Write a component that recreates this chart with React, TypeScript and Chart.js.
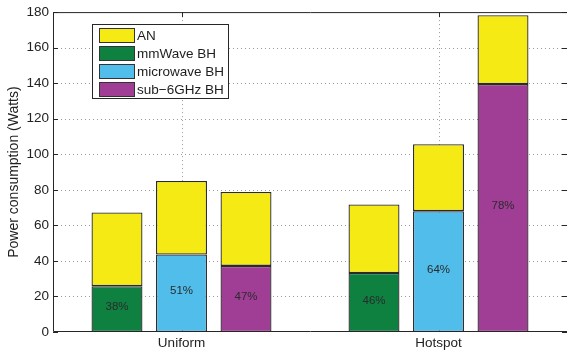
import React, { useEffect, useRef } from "react";
import { Chart, registerables } from "chart.js";

Chart.register(...registerables);

// Scenario categories
const categories = ["Uniform", "Hotspot"];

// Backhaul power per scenario (Watts)
const mmWaveBH = [25.8, 33.2];
const microwaveBH = [43.6, 68.0];
const sub6BH = [37.2, 139.5];

// Access network power stacked on top of each backhaul option (Watts)
const mmWaveAN = [41.5, 38.6];
const microwaveAN = [41.4, 37.7];
const sub6AN = [41.6, 38.7];

// Y axis ticks
const yTicks = [0, 20, 40, 60, 80, 100, 120, 140, 160, 180];

const legendLabels = ["AN", "mmWave BH", "microwave BH", "sub\u22126GHz BH"];

const COLORS = {
  an: "#f5ea14",
  mm: "#0e8040",
  mw: "#50bdeb",
  sub: "#a03d95",
};
const legendColors = [COLORS.an, COLORS.mm, COLORS.mw, COLORS.sub];

const FONT = "'Liberation Sans', Arial, Helvetica, sans-serif";
const EDGE = "#262626";

const framePlugin = {
  id: "matlabFrame",
  beforeDatasetsDraw(chart: any) {
    const { ctx, chartArea: a, scales } = chart;
    const y = scales.y;
    const x = scales.x;
    ctx.save();
    // dotted grid
    ctx.strokeStyle = "#9a9a9a";
    ctx.lineWidth = 1;
    ctx.setLineDash([1, 3]);
    yTicks.forEach((t) => {
      if (t === yTicks[0] || t === yTicks[yTicks.length - 1]) return;
      const py = Math.round(y.getPixelForValue(t)) + 0.5;
      ctx.beginPath();
      ctx.moveTo(a.left, py);
      ctx.lineTo(a.right, py);
      ctx.stroke();
    });
    categories.forEach((_, i) => {
      const px = Math.round(x.getPixelForValue(i)) + 0.5;
      ctx.beginPath();
      ctx.moveTo(px, a.top);
      ctx.lineTo(px, a.bottom);
      ctx.stroke();
    });
    // inward tick marks
    ctx.setLineDash([]);
    ctx.strokeStyle = EDGE;
    const tl = 5;
    yTicks.forEach((t) => {
      const py = Math.round(y.getPixelForValue(t)) + 0.5;
      ctx.beginPath();
      ctx.moveTo(a.left, py);
      ctx.lineTo(a.left + tl, py);
      ctx.moveTo(a.right, py);
      ctx.lineTo(a.right - tl, py);
      ctx.stroke();
    });
    categories.forEach((_, i) => {
      const px = Math.round(x.getPixelForValue(i)) + 0.5;
      ctx.beginPath();
      ctx.moveTo(px, a.top);
      ctx.lineTo(px, a.top + tl);
      ctx.moveTo(px, a.bottom);
      ctx.lineTo(px, a.bottom - tl);
      ctx.stroke();
    });
    ctx.restore();
  },
  afterDatasetsDraw(chart: any) {
    const { ctx, chartArea: a } = chart;
    ctx.save();
    // axes box
    ctx.strokeStyle = EDGE;
    ctx.lineWidth = 1;
    ctx.beginPath();
    ctx.moveTo(a.left + 0.5, a.bottom - 0.5);
    ctx.lineTo(a.left + 0.5, a.top + 0.5);
    ctx.lineTo(a.right + 0.5, a.top + 0.5);
    ctx.lineTo(a.right + 0.5, a.bottom - 0.5);
    ctx.closePath();
    ctx.stroke();

    // share of backhaul in each stacked bar
    ctx.fillStyle = "#2b2b2b";
    ctx.font = `11.5px ${FONT}`;
    ctx.textAlign = "center";
    ctx.textBaseline = "middle";
    [0, 2, 4].forEach((bhIdx) => {
      const bh = chart.data.datasets[bhIdx].data as number[];
      const an = chart.data.datasets[bhIdx + 1].data as number[];
      const meta = chart.getDatasetMeta(bhIdx);
      meta.data.forEach((bar: any, i: number) => {
        const pct = Math.round((bh[i] / (bh[i] + an[i])) * 100);
        const cy = (bar.y + bar.base) / 2 - 2;
        ctx.fillText(`${pct}%`, bar.x, cy);
      });
    });

    // legend box
    const lx = 92.5;
    const ly = 24.5;
    const lw = 136;
    const lh = 74;
    ctx.fillStyle = "#ffffff";
    ctx.fillRect(lx, ly, lw, lh);
    ctx.strokeStyle = EDGE;
    ctx.strokeRect(lx, ly, lw, lh);
    ctx.font = `13.5px ${FONT}`;
    ctx.textAlign = "left";
    legendLabels.forEach((label, i) => {
      const ry = 28.5 + i * 18;
      ctx.fillStyle = legendColors[i];
      ctx.fillRect(99.5, ry, 35, 14);
      ctx.strokeStyle = "#333";
      ctx.strokeRect(99.5, ry, 35, 14);
      ctx.fillStyle = "#1e1e1e";
      ctx.fillText(label, 137, ry + 7.5);
    });
    ctx.restore();
  },
};

export default function App() {
  const canvasRef = useRef<HTMLCanvasElement | null>(null);

  useEffect(() => {
    if (!canvasRef.current) return;
    const barStyle = {
      borderColor: "#2a2a2a",
      borderWidth: 1.3,
      borderSkipped: false as const,
      categoryPercentage: 0.753,
      barPercentage: 0.79,
    };
    const chart = new Chart(canvasRef.current, {
      type: "bar",
      data: {
        labels: categories,
        datasets: [
          { label: "mmWave BH", data: mmWaveBH, stack: "mm", backgroundColor: COLORS.mm, ...barStyle },
          { label: "AN", data: mmWaveAN, stack: "mm", backgroundColor: COLORS.an, ...barStyle },
          { label: "microwave BH", data: microwaveBH, stack: "mw", backgroundColor: COLORS.mw, ...barStyle },
          { label: "AN", data: microwaveAN, stack: "mw", backgroundColor: COLORS.an, ...barStyle },
          { label: "sub-6GHz BH", data: sub6BH, stack: "sub", backgroundColor: COLORS.sub, ...barStyle },
          { label: "AN", data: sub6AN, stack: "sub", backgroundColor: COLORS.an, ...barStyle },
        ],
      },
      options: {
        responsive: false,
        animation: false,
        layout: { padding: { top: 12, right: 0, left: 0, bottom: 0 } },
        plugins: {
          legend: { display: false },
          tooltip: { enabled: false },
        },
        scales: {
          x: {
            stacked: true,
            offset: true,
            grid: { display: false, drawTicks: false, tickLength: 0 },
            border: { display: false },
            ticks: {
              color: "#222",
              font: { family: FONT, size: 13.5 },
              padding: 3,
              maxRotation: 0,
            },
            afterFit: (s: any) => {
              s.height = 21;
            },
          },
          y: {
            stacked: true,
            min: yTicks[0],
            max: yTicks[yTicks.length - 1],
            grid: { display: false, drawTicks: false, tickLength: 0 },
            border: { display: false },
            afterBuildTicks: (s: any) => {
              s.ticks = yTicks.map((v) => ({ value: v }));
            },
            ticks: {
              color: "#222",
              font: { family: FONT, size: 13.5 },
              padding: 4,
            },
            title: {
              display: true,
              text: "Power consumption (Watts)",
              color: "#222",
              font: { family: FONT, size: 14 },
              padding: { top: 6, bottom: 0 },
            },
            afterFit: (s: any) => {
              s.width = 53;
            },
          },
        },
      },
      plugins: [framePlugin],
    });
    return () => chart.destroy();
  }, []);

  return (
    <div style={{ position: "fixed", left: 0, top: 0, width: 567, height: 353, background: "#fff" }}>
      <canvas ref={canvasRef} width={567} height={353} />
    </div>
  );
}
